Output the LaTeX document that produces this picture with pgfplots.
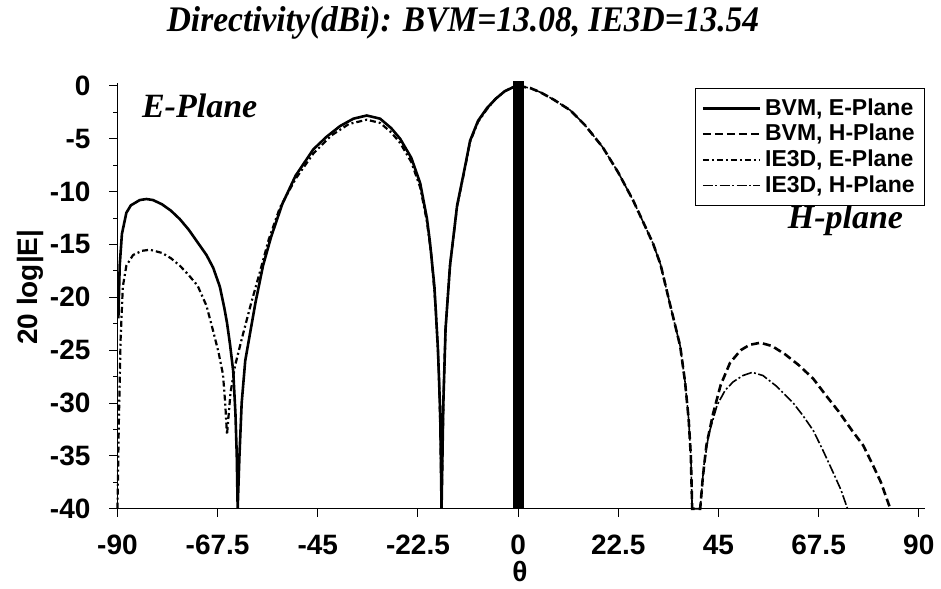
\documentclass[border=0pt]{standalone}
\usepackage{fontspec}
\setmainfont{Liberation Sans}
\newfontfamily\timesf{Liberation Serif}
\usepackage{pgfplots}
\pgfplotsset{compat=1.18}

\pgfplotsset{
  bvmE/.style={black, line width=1.3pt, solid},
  bvmH/.style={black, line width=1.3pt, dash pattern=on 4pt off 2pt},
  ieE/.style={black, line width=1.1pt, dash pattern=on 3pt off 1.5pt on 1pt off 1.5pt},
  ieH/.style={black, line width=0.8pt, dash pattern=on 5pt off 1.2pt on 1pt off 1.2pt},
}

\begin{document}
\begin{tikzpicture}
\begin{axis}[
    scale only axis,
    width=404pt, height=213pt,
    xmin=-90, xmax=91.5,
    ymin=-40, ymax=0.3,
    axis x line=bottom, axis y line=left,
    axis line style={-, line width=0.6pt},
    tick align=outside,
    xtick={-90,-67.5,-45,-22.5,0,22.5,45,67.5,90},
    xticklabels={-90,-67.5,-45,-22.5,0,22.5,45,67.5,90},
    ytick={-40,-35,-30,-25,-20,-15,-10,-5,0},
    yticklabels={-40,-35,-30,-25,-20,-15,-10,-5,0},
    minor y tick num=1,
    major tick length=4pt, minor tick length=2pt,
    tick style={black, line width=0.5pt},
    ticklabel style={font=\fontsize{14}{16}\selectfont\bfseries},
    xticklabel style={yshift=-5.5pt},
    yticklabel style={xshift=-6pt},
    xlabel={θ},
    xlabel style={font=\fontsize{14}{16}\selectfont\bfseries, at={(rel axis cs:0.4981,-0.148)}, anchor=center},
    ylabel={20 log|E|},
    ylabel style={font=\fontsize{14}{16}\selectfont\bfseries, at={(rel axis cs:-0.108,0.52)}, anchor=center, rotate=0},
    title={\scalebox{0.93}[1]{\timesf\bfseries\itshape Directivity(dBi): BVM=13.08, IE3D=13.54}},
    title style={font=\fontsize{18}{21}\selectfont, at={(rel axis cs:0.4276,1.112)}, anchor=center},
    legend cell align=left,
    legend style={at={(rel axis cs:1,0.988)}, anchor=north east, draw=black, line width=0.8pt,
      font=\fontsize{11.5}{13}\selectfont\bfseries, row sep=-1pt, inner sep=3pt},
    legend image code/.code={\draw[#1] (0cm,0cm) -- (1cm,0cm);},
    clip=false,
]
% BVM, E-plane (left half)
\addplot[bvmE] coordinates {
(-89.8,-22) (-89.5,-17) (-89,-14) (-88,-12) (-87,-11.3) (-85,-10.8) (-83.5,-10.7)
(-82,-10.8) (-80,-11.2) (-78,-11.8) (-76,-12.6) (-74,-13.6) (-72,-14.8) (-70,-16)
(-68.5,-17.2) (-67,-19) (-66,-21) (-65.4,-22.4) (-64.7,-24.5) (-64,-27) (-63.5,-31)
(-63.2,-35) (-63,-40) (-62.6,-35) (-62.1,-30) (-61.3,-26) (-60.3,-23.6) (-59,-20.5)
(-57.3,-17) (-55.5,-14.3) (-53,-11.2) (-50,-8.5) (-46,-6) (-43,-4.8) (-40,-3.8)
(-37,-3.1) (-34,-2.8) (-31,-3.1) (-28.5,-4) (-26.5,-5) (-24,-6.8) (-22,-9.2)
(-20.5,-12.5) (-19.8,-14.8) (-18.8,-19) (-18,-25) (-17.5,-31) (-17.2,-40)
(-16.8,-30) (-16.3,-23) (-15.3,-17) (-13.7,-11.3) (-12,-7.8) (-10.8,-5.2) (-9,-3.3)
(-7,-2.1) (-5,-1.2) (-3,-0.5) (-1,-0.1) (0,0)
};
\addlegendentry{BVM, E-Plane}
% BVM, H-plane (right half)
\addplot[bvmH] coordinates {
(0,0) (2.7,-0.2) (5,-0.6) (8,-1.3) (11.7,-2.3) (15,-3.7) (19,-5.8) (22.5,-8.2)
(25.8,-10.8) (28,-12.8) (30.3,-14.9) (32,-16.9) (34.2,-20.8) (36.4,-24.6)
(37.5,-28) (38.3,-31.5) (38.8,-35) (39.1,-40) (40.9,-40) (41.5,-37) (42.3,-34)
(43.8,-31) (45.5,-28.3) (47.6,-26.2) (50,-25) (52,-24.5) (54.4,-24.3) (57,-24.6)
(60,-25.4) (63,-26.4) (66.3,-27.7) (69,-29.2) (72,-30.8) (75,-32.6) (77.5,-34)
(79.5,-35.7) (81.5,-37.5) (83.6,-40)
};
\addlegendentry{BVM, H-Plane}
% IE3D, E-plane (left half)
\addplot[ieE] coordinates {
(-90,-40) (-89.7,-32) (-89.3,-24) (-88.8,-19) (-88,-17) (-86.5,-16) (-84.5,-15.6)
(-82.7,-15.5) (-80,-15.8) (-78,-16.3) (-76,-17) (-74,-17.9) (-72,-18.9) (-70,-20.8)
(-68.5,-23.2) (-67.3,-25.2) (-66.3,-27.3) (-65.8,-30) (-65.4,-33) (-64.6,-29)
(-63.6,-26.5) (-62,-23.8) (-60,-20.6) (-58,-17.6) (-56,-14.5) (-53.5,-11.5)
(-50,-8.8) (-46,-6.4) (-42,-4.7) (-38,-3.6) (-34,-3.2) (-31,-3.5) (-28.5,-4.4)
(-26.5,-5.4) (-24,-7.2) (-22,-9.6) (-20.5,-12.8) (-19.5,-16) (-18.5,-21)
(-17.8,-27) (-17.4,-34) (-17.2,-40) (-16.8,-30) (-16.3,-23) (-15.3,-17)
(-13.7,-11.4) (-12,-7.9) (-10.8,-5.3) (-9,-3.4) (-7,-2.2) (-5,-1.2) (-3,-0.5)
(-1,-0.1) (0,0)
};
\addlegendentry{IE3D, E-Plane}
% IE3D, H-plane (right half)
\addplot[ieH] coordinates {
(0,0) (2.7,-0.2) (5,-0.6) (8,-1.3) (11.7,-2.3) (15,-3.7) (19,-5.8) (22.5,-8.2)
(25.8,-10.8) (28,-12.8) (30.3,-14.9) (32,-16.9) (34.2,-20.8) (36.4,-24.6)
(37.5,-28) (38.3,-31.5) (38.8,-35) (39.1,-40) (40.9,-40) (41.7,-36) (42.8,-33)
(44.7,-30.2) (46.5,-28.8) (48.3,-28) (50.5,-27.4) (52.6,-27.1) (55,-27.4)
(58,-28.4) (61.8,-30) (64,-31.2) (66.3,-32.6) (68.5,-34.5) (70.8,-36.6)
(72.5,-38.2) (74,-40)
};
\addlegendentry{IE3D, H-Plane}
% thick bar at broadside
\addplot[black, line width=5.5pt, forget plot] coordinates {(0,-40) (0,0.5)};
\node[font=\timesf\bfseries\itshape\fontsize{17}{20}\selectfont, anchor=west]
  at (rel axis cs:0.0217,0.945) {E-Plane};
\node[font=\timesf\bfseries\itshape\fontsize{17}{20}\selectfont, anchor=east]
  at (rel axis cs:0.981,0.676) {H-plane};
\path (rel axis cs:-0.1454,-0.1807) rectangle (rel axis cs:1.019,1.180);
\end{axis}
\end{tikzpicture}
\end{document}
